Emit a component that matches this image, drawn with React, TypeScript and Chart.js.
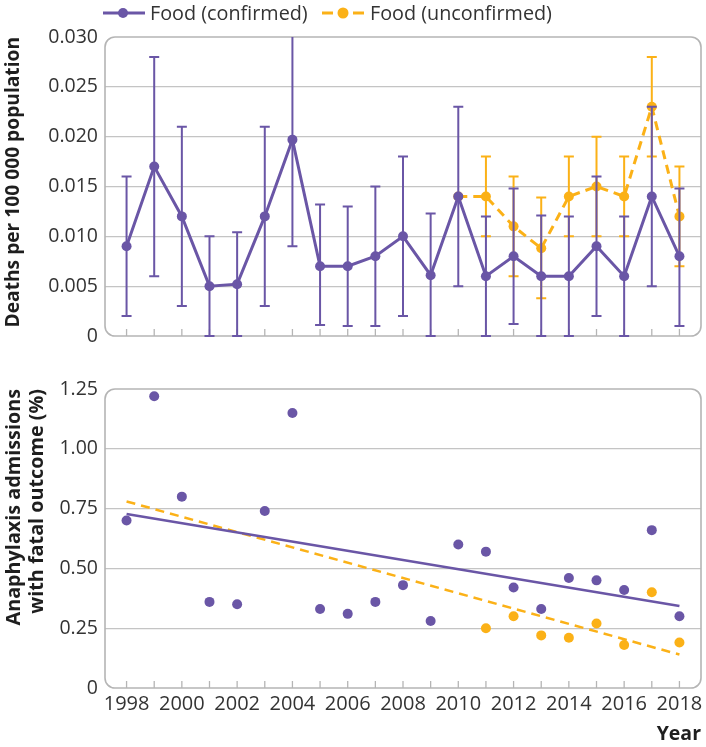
import React, { useEffect, useRef } from 'react';
import { Chart, registerables } from 'chart.js';
Chart.register(...registerables);

const PURPLE = '#6a56a6';
const ORANGE = '#fbb117';
const GRID = '#c4c4c4';
const FRAME = '#b5b5b5';
const TEXT = '#333333';
const TITLE = '#1e1e1e';
const FONT = '"Open Sans", sans-serif';

const years = [1998, 1999, 2000, 2001, 2002, 2003, 2004, 2005, 2006, 2007, 2008, 2009, 2010, 2011, 2012, 2013, 2014, 2015, 2016, 2017, 2018];
const deathsConfirmed = [0.009, 0.017, 0.012, 0.005, 0.0052, 0.012, 0.0197, 0.007, 0.007, 0.008, 0.010, 0.0061, 0.014, 0.006, 0.008, 0.006, 0.006, 0.009, 0.006, 0.014, 0.008];
const deathsConfirmedLow = [0.002, 0.006, 0.003, 0, 0, 0.003, 0.009, 0.0011, 0.001, 0.001, 0.002, 0, 0.005, 0, 0.0012, 0, 0, 0.002, 0, 0.005, 0.001];
const deathsConfirmedHigh = [0.016, 0.028, 0.021, 0.010, 0.0104, 0.021, 0.031, 0.0132, 0.013, 0.015, 0.018, 0.0123, 0.023, 0.012, 0.0148, 0.0121, 0.012, 0.016, 0.012, 0.023, 0.0148];

const unconfirmedYears = [2010, 2011, 2012, 2013, 2014, 2015, 2016, 2017, 2018];
const deathsUnconfirmed = [0.014, 0.014, 0.011, 0.0088, 0.014, 0.015, 0.014, 0.023, 0.012];
const deathsUnconfirmedLow = [null, 0.010, 0.006, 0.0038, 0.010, 0.010, 0.010, 0.018, 0.007];
const deathsUnconfirmedHigh = [null, 0.018, 0.016, 0.0139, 0.018, 0.020, 0.018, 0.028, 0.017];

const fatalConfirmed = [0.70, 1.22, 0.80, 0.36, 0.35, 0.74, 1.15, 0.33, 0.31, 0.36, 0.43, 0.28, 0.60, 0.57, 0.42, 0.33, 0.46, 0.45, 0.41, 0.66, 0.30];
const fatalUnconfirmedYears = [2011, 2012, 2013, 2014, 2015, 2016, 2017, 2018];
const fatalUnconfirmed = [0.25, 0.30, 0.22, 0.21, 0.27, 0.18, 0.40, 0.19];

const trendYears = [1998, 2018];
const trendConfirmed = [0.727, 0.343];
const trendUnconfirmed = [0.78, 0.14];

const X_MIN = 1997.22;
const X_MAX = 2018.78;

const framePlugin = {
  id: 'frame',
  beforeDatasetsDraw(chart: any) {
    const { ctx, chartArea: a, scales } = chart;
    const x = scales.x;
    ctx.save();
    ctx.strokeStyle = FRAME;
    ctx.lineWidth = 1.3;
    years.forEach((yr) => {
      const px = x.getPixelForValue(yr);
      ctx.beginPath();
      ctx.moveTo(px, a.bottom - 7);
      ctx.lineTo(px, a.bottom);
      ctx.stroke();
    });
    ctx.lineWidth = 1.6;
    ctx.beginPath();
    ctx.roundRect(a.left, a.top, a.right - a.left, a.bottom - a.top, 10);
    ctx.stroke();
    ctx.restore();
  },
};

const errorBarPlugin = {
  id: 'errorBars',
  afterDatasetDraw(chart: any, args: any) {
    const ds = chart.data.datasets[args.index];
    if (!ds.errLow) return;
    const { ctx, chartArea: a, scales } = chart;
    const x = scales.x;
    const y = scales.y;
    ctx.save();
    ctx.beginPath();
    ctx.rect(a.left, a.top, a.right - a.left, a.bottom - a.top + 2);
    ctx.clip();
    ctx.strokeStyle = ds.borderColor;
    ctx.lineWidth = 2;
    ctx.setLineDash([]);
    ds.data.forEach((p: any, i: number) => {
      const lo = ds.errLow[i];
      const hi = ds.errHigh[i];
      if (lo == null || hi == null) return;
      const px = x.getPixelForValue(p.x);
      const y1 = y.getPixelForValue(lo);
      const y2 = y.getPixelForValue(hi);
      ctx.beginPath();
      ctx.moveTo(px, y1);
      ctx.lineTo(px, y2);
      ctx.moveTo(px - 5, y1);
      ctx.lineTo(px + 5, y1);
      ctx.moveTo(px - 5, y2);
      ctx.lineTo(px + 5, y2);
      ctx.stroke();
    });
    ctx.restore();
  },
};

function hideEdges(max: number) {
  return (c: any) => {
    const v = c.tick ? c.tick.value : null;
    if (v == null) return GRID;
    if (Math.abs(v) < 1e-9 || Math.abs(v - max) < 1e-9) return 'rgba(0,0,0,0)';
    return GRID;
  };
}

const fixYAxis = (s: any) => {
  s.width = 105;
  s.paddingTop = 0;
  s.paddingBottom = 0;
};

function topConfig(): any {
  return {
    type: 'line',
    data: {
      datasets: [
        {
          label: 'Food (confirmed)',
          data: years.map((x, i) => ({ x, y: deathsConfirmed[i] })),
          borderColor: PURPLE,
          backgroundColor: PURPLE,
          pointBackgroundColor: PURPLE,
          borderWidth: 3,
          pointRadius: 5,
          pointBorderWidth: 0,
          tension: 0,
          order: 0,
          errLow: deathsConfirmedLow,
          errHigh: deathsConfirmedHigh,
        },
        {
          label: 'Food (unconfirmed)',
          data: unconfirmedYears.map((x, i) => ({ x, y: deathsUnconfirmed[i] })),
          borderColor: ORANGE,
          backgroundColor: ORANGE,
          pointBackgroundColor: ORANGE,
          borderWidth: 3,
          borderDash: [9, 6],
          pointRadius: 5,
          pointBorderWidth: 0,
          tension: 0,
          order: 1,
          errLow: deathsUnconfirmedLow,
          errHigh: deathsUnconfirmedHigh,
        },
      ],
    },
    options: {
      animation: false,
      responsive: false,
      devicePixelRatio: 1,
      layout: { padding: { top: 37, right: 3, left: 0, bottom: 0 } },
      plugins: { legend: { display: false }, tooltip: { enabled: false } },
      scales: {
        x: {
          type: 'linear',
          min: X_MIN,
          max: X_MAX,
          afterBuildTicks: (s: any) => {
            s.ticks = years.map((v) => ({ value: v }));
          },
          ticks: { display: false },
          grid: { display: false, drawTicks: false },
          border: { display: false },
          afterFit: (s: any) => {
            s.height = 14;
          },
        },
        y: {
          min: 0,
          max: 0.03,
          ticks: {
            stepSize: 0.005,
            padding: 7,
            color: TEXT,
            font: { family: FONT, size: 19.5 },
            callback: (v: any) => (Number(v) === 0 ? '0' : Number(v).toFixed(3)),
          },
          grid: { color: hideEdges(0.03), lineWidth: 1.2, drawTicks: false },
          border: { display: false },
          title: {
            display: true,
            text: 'Deaths per 100 000 population',
            align: 'end',
            color: TITLE,
            font: { family: FONT, size: 19.2, weight: 'bold' },
            padding: { top: 2, bottom: 0 },
          },
          afterFit: fixYAxis,
        },
      },
    },
    plugins: [framePlugin, errorBarPlugin],
  };
}

function bottomConfig(): any {
  return {
    type: 'scatter',
    data: {
      datasets: [
        {
          type: 'line',
          label: 'Trend (confirmed)',
          data: trendYears.map((x, i) => ({ x, y: trendConfirmed[i] })),
          borderColor: PURPLE,
          borderWidth: 2.5,
          pointRadius: 0,
          order: 0,
        },
        {
          type: 'line',
          label: 'Trend (unconfirmed)',
          data: trendYears.map((x, i) => ({ x, y: trendUnconfirmed[i] })),
          borderColor: ORANGE,
          borderWidth: 2.5,
          borderDash: [9, 6],
          pointRadius: 0,
          order: 0,
        },
        {
          label: 'Food (confirmed)',
          data: years.map((x, i) => ({ x, y: fatalConfirmed[i] })),
          backgroundColor: PURPLE,
          pointBackgroundColor: PURPLE,
          pointRadius: 5,
          pointBorderWidth: 0,
          order: 1,
        },
        {
          label: 'Food (unconfirmed)',
          data: fatalUnconfirmedYears.map((x, i) => ({ x, y: fatalUnconfirmed[i] })),
          backgroundColor: ORANGE,
          pointBackgroundColor: ORANGE,
          pointRadius: 5,
          pointBorderWidth: 0,
          order: 1,
        },
      ],
    },
    options: {
      animation: false,
      responsive: false,
      devicePixelRatio: 1,
      layout: { padding: { top: 39, right: 3, left: 0, bottom: 0 } },
      plugins: { legend: { display: false }, tooltip: { enabled: false } },
      scales: {
        x: {
          type: 'linear',
          min: X_MIN,
          max: X_MAX,
          afterBuildTicks: (s: any) => {
            s.ticks = years.map((v) => ({ value: v }));
          },
          ticks: {
            autoSkip: false,
            maxRotation: 0,
            padding: 4,
            color: TEXT,
            font: { family: FONT, size: 20 },
            callback: (v: any) => (Number(v) % 2 === 0 ? String(v) : ''),
          },
          grid: { display: false, drawTicks: false },
          border: { display: false },
          title: {
            display: true,
            text: 'Year',
            align: 'end',
            color: TITLE,
            font: { family: FONT, size: 19.5, weight: 'bold' },
            padding: { top: 0, bottom: 1 },
          },
          afterFit: (s: any) => {
            s.height = 59;
            s.paddingLeft = 0;
            s.paddingRight = 0;
          },
        },
        y: {
          min: 0,
          max: 1.25,
          ticks: {
            stepSize: 0.25,
            padding: 7,
            color: TEXT,
            font: { family: FONT, size: 19.5 },
            callback: (v: any) => (Number(v) === 0 ? '0' : Number(v).toFixed(2)),
          },
          grid: { color: hideEdges(1.25), lineWidth: 1.2, drawTicks: false },
          border: { display: false },
          title: {
            display: true,
            text: ['Anaphylaxis admissions', 'with fatal outcome (%)'],
            align: 'end',
            color: TITLE,
            font: { family: FONT, size: 19.8, weight: 'bold' },
            padding: { top: 2, bottom: 0 },
          },
          afterFit: fixYAxis,
        },
      },
    },
    plugins: [framePlugin],
  };
}

function ChartCanvas(props: { make: () => any; width: number; height: number; top: number }) {
  const ref = useRef<HTMLCanvasElement>(null);
  useEffect(() => {
    const chart = new Chart(ref.current as HTMLCanvasElement, props.make());
    return () => chart.destroy();
  }, []);
  return (
    <canvas
      ref={ref}
      width={props.width}
      height={props.height}
      style={{ position: 'absolute', left: 0, top: props.top, width: props.width, height: props.height, display: 'block' }}
    />
  );
}

function LegendItem(props: { left: number; textLeft: number; dashed: boolean; color: string; label: string }) {
  const { left, textLeft, dashed, color, label } = props;
  return (
    <>
      <svg width={43} height={14} style={{ position: 'absolute', left, top: 6 }}>
        {dashed ? (
          <>
            <line x1={0} y1={7} x2={11} y2={7} stroke={color} strokeWidth={3} />
            <line x1={31} y1={7} x2={42} y2={7} stroke={color} strokeWidth={3} />
            <circle cx={21} cy={7} r={5.5} fill={color} />
          </>
        ) : (
          <>
            <line x1={0} y1={7} x2={42} y2={7} stroke={color} strokeWidth={3} />
            <circle cx={20} cy={7} r={5} fill={color} />
          </>
        )}
      </svg>
      <div
        style={{
          position: 'absolute',
          left: textLeft,
          top: 2,
          height: 22,
          lineHeight: '22px',
          fontFamily: FONT,
          fontSize: 19.8,
          color: TEXT,
          whiteSpace: 'nowrap',
        }}
      >
        {label}
      </div>
    </>
  );
}

export default function App() {
  return (
    <div style={{ position: 'absolute', left: 0, top: 0, width: 706, height: 747, background: '#ffffff', overflow: 'hidden' }}>
      <ChartCanvas make={topConfig} width={706} height={350} top={0} />
      <ChartCanvas make={bottomConfig} width={706} height={397} top={350} />
      <LegendItem left={103} textLeft={150} dashed={false} color={PURPLE} label="Food (confirmed)" />
      <LegendItem left={322} textLeft={370} dashed={true} color={ORANGE} label="Food (unconfirmed)" />
    </div>
  );
}
